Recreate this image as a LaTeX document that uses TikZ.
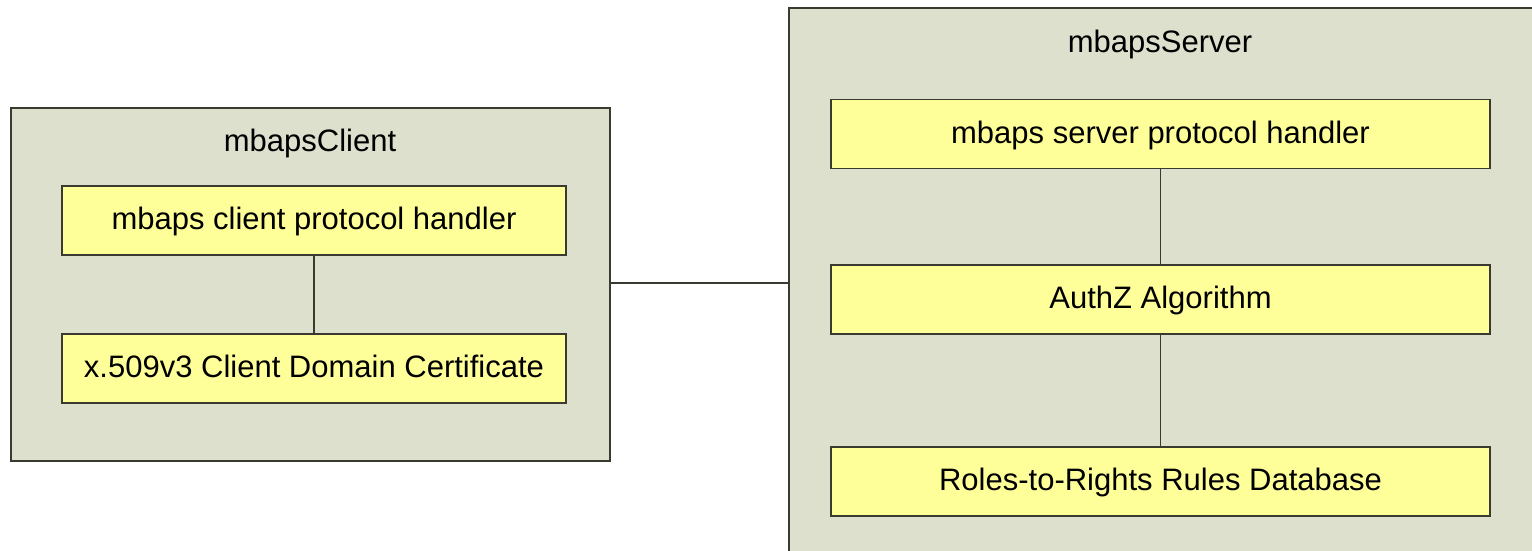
\documentclass[tikz,border=0pt]{standalone}
\usepackage{fontspec}
\setmainfont{Liberation Sans}
\definecolor{pkgfill}{HTML}{DDE0CC}
\definecolor{partfill}{HTML}{FFFF99}
\definecolor{edgegrey}{HTML}{3A3A30}
\tikzset{
  pkgbox/.style={draw=edgegrey,line width=1.6pt,fill=pkgfill,inner sep=0pt},
  partbox/.style={draw=edgegrey,line width=1.6pt,fill=partfill,inner sep=0pt,
    minimum height=69pt,text depth=4pt,font=\fontsize{31}{37}\selectfont},
  pkgtitle/.style={font=\fontsize{31}{37}\selectfont,inner sep=0pt},
  link/.style={draw=edgegrey,line width=1.5pt}
}
\begin{document}
\begin{tikzpicture}[x=1pt,y=-1pt]
  \useasboundingbox (0,0) rectangle (1532,551);
  \clip (0,0) rectangle (1532,551);
  \fill[white] (0,0) rectangle (1532,551);
  % client side
  \node[pkgbox,minimum width=599pt,minimum height=353pt] (client) at (310.5,284.5) {};
  \node[pkgtitle] (clienttitle) at (310,143) {mbapsClient};
  \node[partbox,minimum width=504pt] (chandler) at (314,220.5) {mbaps client protocol handler};
  \node[partbox,minimum width=504pt] (ccert) at (314,368.5) {x.509v3 Client Domain Certificate};
  % server side
  \node[pkgbox,minimum width=780pt,minimum height=570pt] (server) at (1179,293) {};
  \node[pkgtitle] (servertitle) at (1160,44) {mbapsServer};
  \node[partbox,minimum width=659pt] (shandler) at (1160.5,134) {mbaps server protocol handler};
  \node[partbox,minimum width=659pt] (authz) at (1160.5,299.5) {AuthZ Algorithm};
  \node[partbox,minimum width=659pt] (rulesdb) at (1160.5,481.5) {Roles-to-Rights Rules Database};
  % connectors
  \draw[link] (chandler) -- (ccert);
  \draw[link] (shandler) -- (authz);
  \draw[link] (authz) -- (rulesdb);
  \draw[link] ([yshift=1.5pt]client.east) -- ([yshift=1.5pt]client.east -| server.west);
\end{tikzpicture}
\end{document}
